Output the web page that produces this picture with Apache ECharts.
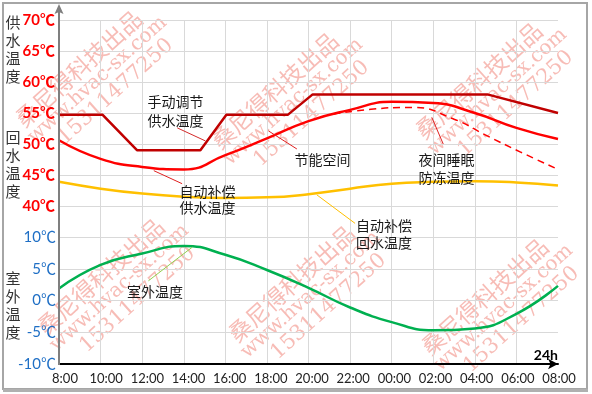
<!DOCTYPE html>
<html><head><meta charset="utf-8">
<script src="https://cdn.jsdelivr.net/npm/echarts@6/dist/echarts.min.js"></script>
<style>html,body{margin:0;padding:0;background:#fff}#c{width:592px;height:394px}</style>
</head><body><div id="c"></div>
<script>
// ---- data ----
const hours = [0,2,4,6,8,10,12,14,16,18,20,22,24];
const xTickLabels = ['8:00','10:00','12:00','14:00','16:00','18:00','20:00','22:00','00:00','02:00','04:00','06:00','08:00'];
const supplyTicks = [40,45,50,55,60,65,70];
const outdoorTicks = [-10,-5,0,5,10];

const manualHours = [0,2.1,3.75,6.8,8.05,11.0,12.2,20.6,24];
const manualSupply = [54.7,54.7,49,49,54.7,54.7,58,58,55];
const autoSupply = [50.6,47.6,46.3,45.9,48.2,50.9,53.7,55.5,56.8,56.6,55.0,52.6,50.8];
const nightHours = [13.2,15,17,19,20.6,22.2,24];
const nightSupply = [54.8,55.6,55.9,54.0,51.3,48.7,45.9];
const autoReturn = [43.9,42.8,42.0,41.5,41.3,41.4,41.9,42.8,43.6,43.9,44.0,43.8,43.3];
const outdoorTemp = [1.9,5.6,7.4,8.6,7.2,4.8,2.0,-1.1,-3.4,-4.7,-4.4,-2.1,2.3];

// annotation leader lines (hour, temperature)
const leaderManual = [[5.69,52.6],[7.04,50.5]];
const leaderSaving = [[10.08,52.1],[11.44,49.2]];
const leaderSupply = [[4.56,45.7],[5.92,43.6]];
const leaderNight = [[17.93,54.3],[18.48,50.0]];
const leaderReturn = [[12.4,41.8],[14.24,37.2]];
const leaderOutdoor = [[4.3,3.1],[6.41,8.4]];

const zip = (xs, ys) => xs.map((x, i) => [x, ys[i]]);

const chart = echarts.init(document.getElementById('c'), null, {renderer: 'canvas'});
const gridLine = {show: true, showMaxLine: false, lineStyle: {color: '#d9d9d9', width: 1}};
const labelFont = 'Lato, "Noto Sans CJK SC", sans-serif';
const cjk = '"Noto Sans CJK SC", sans-serif';
const wmColor = 'rgba(236,96,80,0.42)';

function lineSeries(data, color, width, opts) {
  return Object.assign({
    type: 'line', data: data, symbol: 'none', smooth: false, silent: true,
    xAxisIndex: 0, yAxisIndex: 0,
    lineStyle: {color: color, width: width}
  }, opts || {});
}

function txt(text, x, y, extra) {
  return {type: 'text', x: x, y: y, silent: true, z: 50,
    style: Object.assign({text: text, font: '14px ' + cjk, fill: '#1a1a1a', align: 'center', verticalAlign: 'middle'}, extra || {})};
}

function wm(x, y) {
  return {type: 'group', x: x, y: y, rotation: 0.733, silent: true, z: 100, children: [
    {type: 'text', x: -11, y: 0, style: {text: '桑尼得科技出品', font: '23px ' + cjk, fill: wmColor, verticalAlign: 'middle'}},
    {type: 'text', x: -14, y: 21, style: {text: 'www.hvac-sx.com', font: '20px "DejaVu Serif", serif', fill: wmColor, verticalAlign: 'middle'}},
    {type: 'text', x: 8, y: 42, style: {text: '15311477250', font: '21px "DejaVu Serif", serif', fill: wmColor, verticalAlign: 'middle'}}
  ]};
}

const option = {
  animation: false,
  backgroundColor: '#fff',
  grid: [
    {left: 59, right: 34, top: 20, bottom: 157},
    {left: 59, right: 34, top: 237, bottom: 30},
    {left: 65, right: 33, top: 237, bottom: 30}
  ],
  xAxis: [
    {gridIndex: 0, type: 'value', min: 0, max: 24, interval: 2,
      axisLine: {show: false}, axisTick: {show: false}, axisLabel: {show: false}, splitLine: gridLine},
    {gridIndex: 1, type: 'value', min: 0, max: 24, interval: 2,
      axisLine: {show: true, onZero: false, lineStyle: {color: '#000', width: 2}, symbol: ['none', 'arrow'], symbolSize: [8, 10]},
      axisTick: {show: false}, axisLabel: {show: false}, splitLine: gridLine},
    {gridIndex: 2, type: 'value', min: 0, max: 24, interval: 2,
      axisLine: {show: false, onZero: false}, axisTick: {show: false}, splitLine: {show: false},
      axisLabel: {show: true, margin: 8, color: '#222', fontSize: 13, fontFamily: labelFont,
        formatter: v => xTickLabels[Math.round(v / 2)] || ''}}
  ],
  yAxis: [
    {gridIndex: 0, type: 'value', min: 35, max: 70, interval: 5,
      axisLine: {show: false}, axisTick: {show: false}, splitLine: {show: true, lineStyle: {color: '#d9d9d9'}},
      axisLabel: {margin: 4, color: '#FF0000', fontWeight: 'bold', fontSize: 15, fontFamily: labelFont, padding: [0, 0, 6, 0],
        formatter: v => supplyTicks.indexOf(v) >= 0 ? v + '℃' : ''}},
    {gridIndex: 1, type: 'value', min: -10, max: 10, interval: 5,
      axisLine: {show: false}, axisTick: {show: false}, splitLine: {show: true, lineStyle: {color: '#d9d9d9'}},
      axisLabel: {margin: 3, color: '#1F6FC5', fontSize: 15, fontFamily: labelFont,
        formatter: v => outdoorTicks.indexOf(v) >= 0 ? v + '℃' : ''}},
    {gridIndex: 2, type: 'value', min: 0, max: 1, show: false}
  ],
  series: [
    lineSeries(zip(hours, autoReturn), '#FFC000', 2.5, {smooth: true}),
    lineSeries(zip(nightHours, nightSupply), '#FF0000', 1.5, {smooth: true, lineStyle: {color: '#FF0000', width: 1.5, type: [7, 5]}}),
    lineSeries(zip(hours, autoSupply), '#FF0000', 2.5, {smooth: true}),
    lineSeries(zip(manualHours, manualSupply), '#C00000', 2.5),
    lineSeries(zip(hours, outdoorTemp), '#00B050', 2.5, {smooth: true, xAxisIndex: 1, yAxisIndex: 1}),
    lineSeries(leaderManual, '#D42A2A', 1),
    lineSeries(leaderSaving, '#E02020', 1),
    lineSeries(leaderSupply, '#E02020', 1),
    lineSeries(leaderNight, '#E02020', 1),
    lineSeries(leaderReturn, '#FFC000', 1),
    lineSeries(leaderOutdoor, '#92D050', 1, {xAxisIndex: 1, yAxisIndex: 1})
  ],
  graphic: [
    // frame
    {type: 'rect', shape: {x: 3, y: 3, width: 584, height: 386}, silent: true,
      style: {fill: 'none', stroke: '#a6a6a6', lineWidth: 2}},
    {type: 'line', shape: {x1: 3, y1: 390.5, x2: 588, y2: 390.5}, silent: true, style: {stroke: '#b0b0b0', lineWidth: 3}},
    // y axis line with arrow
    {type: 'line', shape: {x1: 59, y1: 365, x2: 59, y2: 12}, silent: true, z: 20, style: {stroke: '#7f7f7f', lineWidth: 2}},
    {type: 'polygon', shape: {points: [[59, 4], [54.5, 14], [59, 12], [63.5, 14]]}, silent: true, z: 20, style: {fill: '#7f7f7f'}},
    // axis titles
    txt('供\n水\n温\n度', 13, 49, {font: '15px ' + cjk, fill: '#333', lineHeight: 18}),
    txt('回\n水\n温\n度', 13, 164, {font: '15px ' + cjk, fill: '#333', lineHeight: 18}),
    txt('室\n外\n温\n度', 13, 305, {font: '15px ' + cjk, fill: '#333', lineHeight: 18}),
    txt('24h', 558, 355, {font: 'bold 14px ' + labelFont, fill: '#000', align: 'right'}),
    // annotations
    txt('手动调节', 175.5, 102),
    txt('供水温度', 175.5, 120.5),
    txt('节能空间', 322.5, 160),
    txt('自动补偿', 207.5, 192),
    txt('供水温度', 207.5, 208),
    txt('夜间睡眠', 446.5, 160),
    txt('防冻温度', 446.5, 178),
    txt('自动补偿', 384, 226),
    txt('回水温度', 384, 243),
    txt('室外温度', 155, 292),
    // watermark
    wm(27, 115), wm(223, 137), wm(427, 127),
    wm(49, 323), wm(240, 330), wm(433, 343)
  ]
};
chart.setOption(option);
</script>
</body></html>
